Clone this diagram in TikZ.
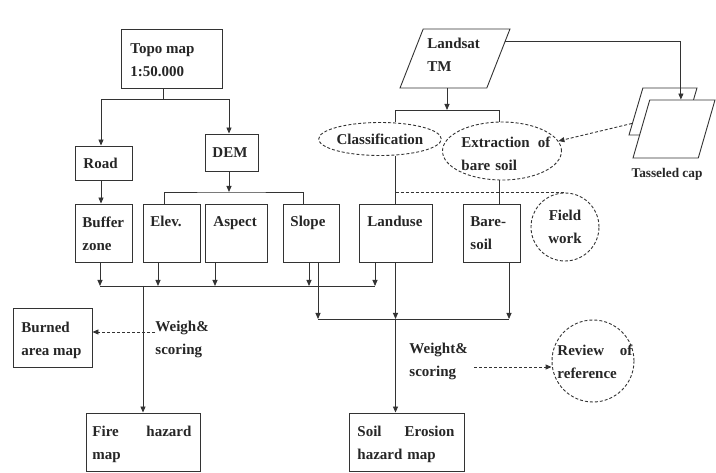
\documentclass[tikz,border=0pt]{standalone}
\usepackage{fontspec}
\setmainfont{Liberation Serif}
\usetikzlibrary{arrows.meta,shapes.geometric,calc}
\newcommand{\mybox}[5]{\node[box, minimum width={(#4)-(#2)}, minimum height={(#5)-(#3)}] (#1) at ({((#2)+(#4))/2},{((#3)+(#5))/2}) {};}
\begin{document}
\begin{tikzpicture}[x=1pt,y=-1pt,
  line width=0.9pt, draw=black!80,
  every node/.style={font=\fontsize{15}{23}\selectfont\bfseries, text=black!85},
  box/.style={draw=black!80, rectangle, inner sep=0pt},
  txt/.style={inner sep=0pt, align=left, anchor=north west},
  arr/.style={-{Triangle[length=6pt,width=5pt]}},
  dsh/.style={dash pattern=on 3pt off 2pt},
  para/.style={draw=black!80, trapezium, trapezium stretches=true, inner sep=2pt},
]
\useasboundingbox[fill=white] (0,0) rectangle (716,473);

% boxes
\mybox{topo}{121}{29}{222}{88}
\mybox{road}{75}{146}{132}{180}
\mybox{dem}{205}{134}{258}{171}
\mybox{buffer}{75}{204}{132}{262}
\mybox{elev}{143}{204}{200}{262}
\mybox{aspect}{205}{204}{267}{262}
\mybox{slope}{283}{204}{339}{262}
\mybox{landuse}{359}{204}{432}{262}
\mybox{bare}{463}{204}{520}{262}
\mybox{burned}{13}{308}{92}{367}
\mybox{fire}{86}{413}{200}{471}
\mybox{soil}{349}{413}{464}{471}

% box texts
\node[txt] (topo-t) at (130,43) {Topo map\\1:50.000};
\node[txt] (road-t) at (83,158) {Road};
\node[txt] (dem-t) at (212,147) {DEM};
\node[txt] (buffer-t) at (82,216) {Buffer\\zone};
\node[txt] (elev-t) at (150,216) {Elev.};
\node[txt] (aspect-t) at (213,216) {Aspect};
\node[txt] (slope-t) at (290,216) {Slope};
\node[txt] (landuse-t) at (367,216) {Landuse};
\node[txt] (bare-t) at (470,216) {Bare-\\soil};
\node[txt] (burned-t) at (21,322) {Burned\\area map};
\node[txt, text width=99pt] (fire-t) at (92,426) {Fire\hfill hazard\\map};
\node[txt, text width=97pt] (soil-t) at (357,426) {Soil\hfill Erosion\\hazard map};

% parallelograms
\node[para, trapezium left angle=70, trapezium right angle=110, minimum width=110, minimum height=59] (landsat) at (455,58.5) {};
\node[txt] (landsat-t) at (427,38) {Landsat\\TM};
\node[para, trapezium left angle=71, trapezium right angle=109, minimum width=68, minimum height=47] (tcb) at (663,111.5) {};
\node[para, fill=white, trapezium left angle=71, trapezium right angle=109, minimum width=82, minimum height=58] (tcf) at (674,129) {};
\node[font=\fontsize{13.3}{15}\selectfont\bfseries] (tcl) at (667,174) {Tasseled cap};

% ellipses and circles
\node[draw=black!80, dsh, ellipse, minimum width=93, minimum height=33, inner sep=0pt] (cls) at (380,139) {Classification};
\node[draw=black!80, dsh, ellipse, minimum width=119, minimum height=58, inner sep=0pt] (ext) at (502,151) {};
\node[txt, text width=89pt] (ext-t) at (461,136) {Extraction\hfill of\\bare soil};
\node[draw=black!80, dsh, circle, minimum size=68, inner sep=0pt, align=center] (fw) at (565,227) {Field\\work};
\node[draw=black!80, dsh, circle, minimum size=82, inner sep=0pt] (rev) at (593,361) {};
\node[txt, text width=75pt] (rev-t) at (557,344) {Review\hfill of\\reference};

% topo connectors
\coordinate (t1) at (163,99);
\draw (t1 |- topo.south) -- (t1);
\draw[arr] (t1) -| ([xshift=-2.5pt]road.north);
\draw[arr] (t1) -| ([xshift=-2.5pt]dem.north);
\draw[arr] ([xshift=-2.5pt]road.south) -- ([xshift=-2.5pt]buffer.north);
\coordinate (d1) at (229,192);
\draw[arr] (d1 |- dem.south) -- (d1);
\draw ([xshift=-7.5pt]elev.north) |- (d1) -| ([xshift=-8pt]slope.north);

% landsat connectors
\coordinate (l1) at (447,110);
\draw[arr] (l1 |- landsat.south) -- (l1);
\draw (l1) -| ([xshift=15pt]cls.north);
\draw (l1) -| ([xshift=-3pt]ext.north);
\draw (landuse.north |- cls.south) -- (landuse.north);
\coordinate (e1) at ([xshift=-3pt]ext.south);
\draw (e1) -- (e1 |- bare.north);
\draw[dsh] (landuse.north |- fw.north) -- (fw.north);
\coordinate (ls1) at ($(landsat.top right corner)!0.22!(landsat.bottom right corner)$);
\coordinate (tc1) at ($(tcf.top left corner)!0.476!(tcf.top right corner)$);
\draw[arr] (ls1) -| (tc1);
\draw[arr, dsh] ($(tcb.top left corner)!0.75!(tcb.bottom left corner)$) -- (ext.10);

% first merge
\coordinate (m1) at (143,286);
\coordinate (bb) at ([xshift=-3.5pt]buffer.south);
\coordinate (be) at ([xshift=-13.5pt]elev.south);
\coordinate (ba) at ([xshift=-21pt]aspect.south);
\coordinate (bs) at ([xshift=-2pt]slope.south);
\coordinate (bl) at ([xshift=-20.5pt]landuse.south);
\draw[arr] (bb) -- (bb |- m1);
\draw[arr] (be) -- (be |- m1);
\draw[arr] (ba) -- (ba |- m1);
\draw[arr] (bs) -- (bs |- m1);
\draw[arr] (bl) -- (bl |- m1);
\draw (bb |- m1) -- (bl |- m1);
\draw[arr] (m1) -- (fire.north);

% second merge
\coordinate (m2) at (395.5,319);
\coordinate (s2) at ([xshift=7pt]slope.south);
\coordinate (bs2) at ([xshift=17.5pt]bare.south);
\draw[arr] (s2) -- (s2 |- m2);
\draw[arr] (bs2) -- (bs2 |- m2);
\draw[arr] (landuse.south) -- (m2);
\draw (s2 |- m2) -- (bs2 |- m2);
\draw[arr] (m2) -- (m2 |- soil.north);

% weighting labels
\node[txt] (wl) at (155,321) {Weigh\&\\scoring};
\coordinate (bure) at ([yshift=5.5pt]burned.east);
\draw[arr, dsh] (wl.west |- bure) -- (bure);
\node[txt] (wr) at (409,343) {Weight\&\\scoring};
\coordinate (revw) at ([yshift=-6pt]rev.west);
\coordinate (wr1) at ([xshift=6pt]wr.east);
\draw[arr, dsh] (wr1 |- revw) -- (revw);
\end{tikzpicture}
\end{document}
